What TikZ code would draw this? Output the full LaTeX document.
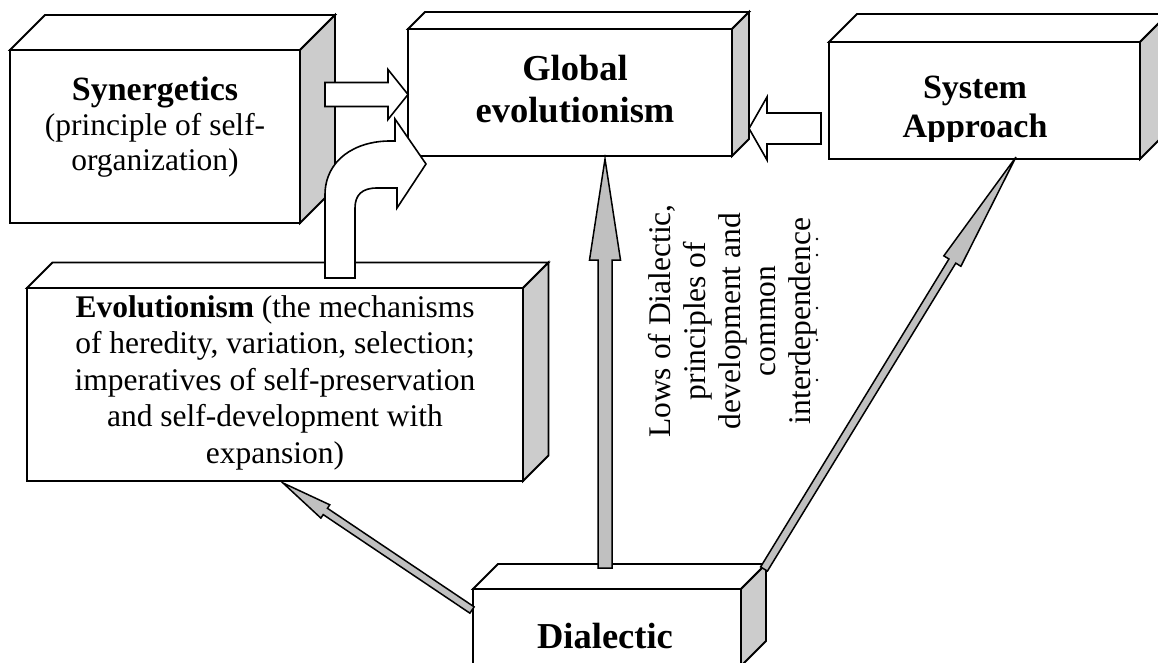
\documentclass[tikz,border=0pt]{standalone}
\usepackage{fontspec}
\setmainfont{Liberation Serif}
\usetikzlibrary{calc}
\definecolor{sidegray}{RGB}{204,204,204}
\definecolor{arrowgray}{RGB}{192,192,192}
\tikzset{
  face/.style={draw=black, line width=1.8pt, line join=miter},
  frontface/.style={face, fill=white, rectangle, inner sep=0pt, outer sep=0pt},
  sideface/.style={face, fill=sidegray},
  topface/.style={face, fill=white},
  hollowarrow/.style={draw=black, line width=1.6pt, fill=white, line join=miter},
  grayarrow/.style={draw=black, line width=1.5pt, fill=arrowgray, line join=miter},
  txt/.style={align=center, inner sep=0pt, outer sep=0pt, text=black},
  bodyfont/.style={font=\fontsize{31.5}{35}\selectfont},
}
\newcommand\boxfaces[2]{%
  \draw[topface] (#1.north west) -- ++(#2,#2) -- ($(#1.north east)+(#2,#2)$) -- (#1.north east) -- cycle;
  \draw[sideface] (#1.north east) -- ++(#2,#2) -- ($(#1.south east)+(#2,#2)$) -- (#1.south east) -- cycle;}
\newcommand\blockarr[6]{%
  \coordinate (ba-base) at ($(#3)!#6!(#2)$);
  \draw[#1] ($(#2)!#4!90:(#3)$) -- ($(ba-base)!#4!90:(#3)$) -- ($(ba-base)!#5!90:(#3)$) -- (#3)
    -- ($(ba-base)!#5!-90:(#3)$) -- ($(ba-base)!#4!-90:(#3)$) -- ($(#2)!#4!-90:(#3)$) -- cycle;}
\begin{document}
\begin{tikzpicture}[x=1pt,y=1pt]
\useasboundingbox (0,0) rectangle (1158,-663);

% ---- boxes ----
\node[frontface, minimum width=290pt, minimum height=173pt] (syn) at (155,-136.5) {};
\boxfaces{syn}{35}
\node[frontface, minimum width=324pt, minimum height=127pt] (glob) at (570,-92.5) {};
\boxfaces{glob}{17}
\node[frontface, minimum width=311pt, minimum height=117pt] (sys) at (984.5,-100.5) {};
\boxfaces{sys}{28}
\node[frontface, minimum width=496pt, minimum height=193pt] (evo) at (275,-384.5) {};
\boxfaces{evo}{25.5}
\node[frontface, minimum width=268pt, minimum height=77pt] (dia) at (607,-627.5) {};
\boxfaces{dia}{25}

% ---- texts ----
\node[txt, bodyfont] (synT) at (155,-127) {{\fontsize{34}{35}\selectfont\bfseries Synergetics}\\(principle of self-\\organization)};
\node[txt, font=\fontsize{36.5}{42}\selectfont\bfseries] (globT) at (575,-89.5) {Global\\evolutionism};
\begin{scope}
  \clip (829,-42) rectangle (1140,-142);
  \node[txt, font=\fontsize{34}{39}\selectfont\bfseries] (sysT) at (975,-110.5) {System\\Approach};
\end{scope}
\node[txt, font=\fontsize{31.5}{36.5}\selectfont] (evoT) at (275,-382.5) {{\bfseries Evolutionism} (the mechanisms\\of heredity, variation, selection;\\imperatives of self-preservation\\and self-development with\\expansion)};
\node[txt, anchor=base, font=\fontsize{36.5}{42}\selectfont\bfseries] (diaT) at (605,-648) {Dialectic};
\begin{scope}
  \clip (630,-150) rectangle (819,-490);
  \node[txt, rotate=90, bodyfont] (lows) at (732.6,-321) {Lows of Dialectic,\\principles of\\development and\\common\\interdependence};
\end{scope}
\foreach \yy in {239,255,308,340,380} \fill (817,-\yy) circle (1.3pt);

% ---- connectors ----
\coordinate (a1s) at (325,-94.5);
\coordinate (a1e) at (glob.west |- 0,-94.5);
\blockarr{hollowarrow}{a1s}{a1e}{12pt}{25pt}{20pt}

\coordinate (a3s) at (821,-128.5);
\coordinate (a3e) at (749,-128.5);
\blockarr{hollowarrow}{a3s}{a3e}{15.5pt}{31.5pt}{18pt}

\coordinate (a4s) at (605,-568);
\coordinate (a4e) at (605,-159);
\blockarr{grayarrow}{a4s}{a4e}{7pt}{15.5pt}{101pt}

\coordinate (a5s) at (764,-569);
\coordinate (a5e) at (1016,-157);
\blockarr{grayarrow}{a5s}{a5e}{4pt}{10pt}{122pt}

\coordinate (a6s) at (472,-610);
\coordinate (a6e) at (283,-483);
\blockarr{grayarrow}{a6s}{a6e}{3.8pt}{8pt}{51pt}

% curved hollow arrow from Evolutionism to Global evolutionism
\coordinate (a2s) at (340,-278);
\coordinate (a2e) at (426,-164);
\draw[hollowarrow] (325,-278) -- (325,-195) .. controls (325,-160) and (355,-141) .. (390,-141)
  -- (395,-141) -- (395,-119) -- (a2e) -- (397,-208) -- (397,-188) -- (377,-188)
  .. controls (362,-188) and (355,-195) .. (355,-208) -- (355,-278) -- cycle;
\end{tikzpicture}
\end{document}
